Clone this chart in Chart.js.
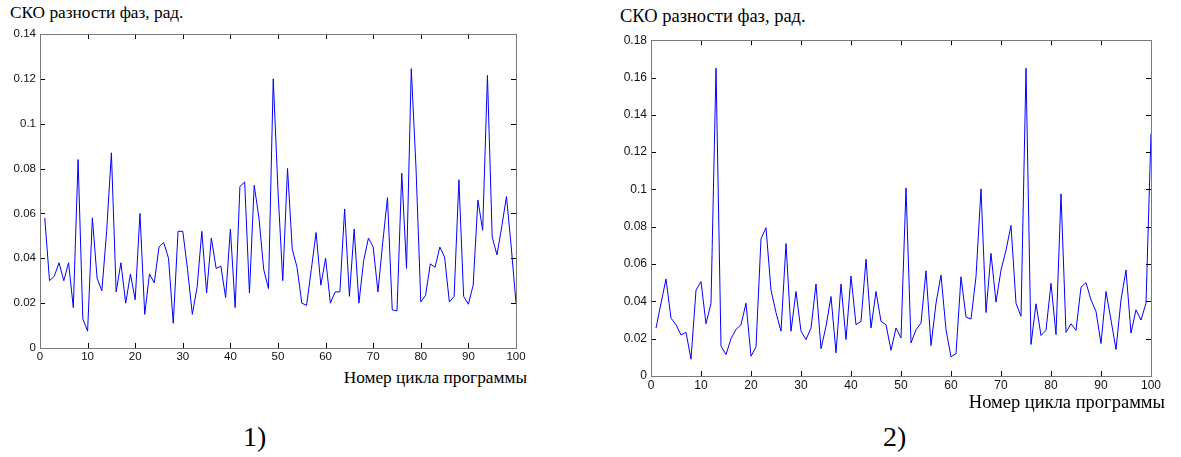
<!DOCTYPE html>
<html>
<head>
<meta charset="utf-8">
<script src="https://cdn.jsdelivr.net/npm/chart.js@4/dist/chart.umd.min.js"></script>
<style>
    body { margin: 0; background: #fff; }
    #page { position: relative; width: 1181px; height: 457px; overflow: hidden; background: #fff; }
    canvas { position: absolute; }
    .txt { position: absolute; font-family: "Liberation Serif", "DejaVu Serif", serif; color: #000; line-height: 1; white-space: nowrap; }
</style>
</head>
<body>
<div id="page">
    <div class="txt" style="left:10px;top:4px;font-size:17.3px;">СКО разности фаз, рад.</div>
    <div class="txt" style="left:620px;top:7px;font-size:18.5px;">СКО разности фаз, рад.</div>

    <canvas id="chart1" width="540" height="345" style="left:0;top:23px;"></canvas>
    <canvas id="chart2" width="565" height="367" style="left:610px;top:29px;"></canvas>

    <div class="txt" style="right:654px;top:369px;font-size:17.3px;">Номер цикла программы</div>
    <div class="txt" style="right:16px;top:393px;font-size:18.5px;">Номер цикла программы</div>

    <div class="txt" style="left:243px;top:423px;font-size:28px;">1)</div>
    <div class="txt" style="left:883px;top:423px;font-size:28px;">2)</div>
</div>

<script>
// номер цикла программы
const cycles = [
    1, 2, 3, 4, 5, 6, 7, 8, 9, 10,
    11, 12, 13, 14, 15, 16, 17, 18, 19, 20,
    21, 22, 23, 24, 25, 26, 27, 28, 29, 30,
    31, 32, 33, 34, 35, 36, 37, 38, 39, 40,
    41, 42, 43, 44, 45, 46, 47, 48, 49, 50,
    51, 52, 53, 54, 55, 56, 57, 58, 59, 60,
    61, 62, 63, 64, 65, 66, 67, 68, 69, 70,
    71, 72, 73, 74, 75, 76, 77, 78, 79, 80,
    81, 82, 83, 84, 85, 86, 87, 88, 89, 90,
    91, 92, 93, 94, 95, 96, 97, 98, 99, 100
];

// 1) СКО разности фаз
const sko1 = [
    0.058, 0.030, 0.032, 0.038, 0.030, 0.038, 0.018, 0.084, 0.013, 0.0075,
    0.058, 0.031, 0.0255, 0.052, 0.087, 0.025, 0.038, 0.020, 0.033, 0.0215,
    0.060, 0.015, 0.033, 0.029, 0.045, 0.047, 0.040, 0.011, 0.052, 0.052,
    0.035, 0.015, 0.027, 0.052, 0.0245, 0.049, 0.0355, 0.0365, 0.0225, 0.053,
    0.018, 0.072, 0.074, 0.0245, 0.0725, 0.058, 0.035, 0.0265, 0.120, 0.070,
    0.030, 0.080, 0.044, 0.036, 0.020, 0.019, 0.035, 0.0515, 0.028, 0.040,
    0.020, 0.025, 0.025, 0.062, 0.023, 0.053, 0.020, 0.039, 0.049, 0.045,
    0.025, 0.047, 0.067, 0.017, 0.0165, 0.078, 0.0355, 0.1245, 0.080, 0.0205,
    0.0235, 0.0375, 0.036, 0.045, 0.0405, 0.0205, 0.023, 0.075, 0.023, 0.0195,
    0.028, 0.066, 0.0525, 0.1215, 0.0495, 0.0415, 0.054, 0.0675, 0.045, 0.020
];

// 2) СКО разности фаз
const sko2 = [
    0.0257, 0.039, 0.052, 0.031, 0.0275, 0.022, 0.0234, 0.009, 0.046, 0.0506,
    0.028, 0.039, 0.165, 0.016, 0.0115, 0.020, 0.025, 0.0275, 0.039, 0.0106,
    0.0156, 0.0736, 0.0795, 0.046, 0.034, 0.024, 0.071, 0.024, 0.0453, 0.024,
    0.0195, 0.0257, 0.0493, 0.0146, 0.0266, 0.0426, 0.0124, 0.0493, 0.0195, 0.0536,
    0.0275, 0.0293, 0.0626, 0.0257, 0.0453, 0.0293, 0.0275, 0.0138, 0.0257, 0.0204,
    0.1008, 0.0177, 0.0248, 0.0284, 0.0564, 0.0163, 0.039, 0.0541, 0.0248, 0.0103,
    0.012, 0.0532, 0.0316, 0.0305, 0.0532, 0.1003, 0.034, 0.0657, 0.0396, 0.0568,
    0.0674, 0.0807, 0.039, 0.032, 0.165, 0.0169, 0.0387, 0.0217, 0.0245, 0.0497,
    0.0222, 0.0976, 0.0234, 0.028, 0.0245, 0.0476, 0.050, 0.0408, 0.0346, 0.0174,
    0.0453, 0.030, 0.0142, 0.0408, 0.0568, 0.023, 0.0355, 0.030, 0.039, 0.130
];

const xTicks  = [0, 10, 20, 30, 40, 50, 60, 70, 80, 90, 100];
const xLabels = ["0", "10", "20", "30", "40", "50", "60", "70", "80", "90", "100"];

const yTicks1  = [0, 0.02, 0.04, 0.06, 0.08, 0.1, 0.12, 0.14];
const yLabels1 = ["0", "0.02", "0.04", "0.06", "0.08", "0.1", "0.12", "0.14"];

const yTicks2  = [0, 0.02, 0.04, 0.06, 0.08, 0.1, 0.12, 0.14, 0.16, 0.18];
const yLabels2 = ["0", "0.02", "0.04", "0.06", "0.08", "0.1", "0.12", "0.14", "0.16", "0.18"];


/* ================= BOX (matlab style) ================= */

const boxPlugin = {
    id: "box",
    afterDraw(chart) {
        const { ctx, chartArea: a, scales: { x, y } } = chart;
        const len = 5;
        ctx.save();

        // inner ticks on all four sides
        ctx.strokeStyle = "#000";
        ctx.lineWidth = 1;
        ctx.beginPath();
        x.ticks.forEach(t => {
            const px = Math.round(x.getPixelForValue(t.value)) + 0.5;
            ctx.moveTo(px, a.bottom);  ctx.lineTo(px, a.bottom - len);
            ctx.moveTo(px, a.top);     ctx.lineTo(px, a.top + len);
        });
        y.ticks.forEach(t => {
            const py = Math.round(y.getPixelForValue(t.value)) + 0.5;
            ctx.moveTo(a.left, py);    ctx.lineTo(a.left + len, py);
            ctx.moveTo(a.right, py);   ctx.lineTo(a.right - len, py);
        });
        ctx.stroke();

        // frame
        ctx.strokeStyle = "#7a7a7a";
        ctx.strokeRect(Math.round(a.left) + 0.5, Math.round(a.top) + 0.5,
                       Math.round(a.right - a.left), Math.round(a.bottom - a.top));
        ctx.restore();
    }
};


/* ================= CHART ================= */

function makeChart(id, values, yMax, yTicks, yLabels, fontSize, yWidth) {

    const font = { family: "Liberation Sans", size: fontSize };

    return new Chart(document.getElementById(id), {
        type: "line",
        data: {
            datasets: [{
                data: cycles.map((c, i) => ({ x: c, y: values[i] })),
                borderColor: "#0000ff",
                borderWidth: 1,
                pointRadius: 0,
                tension: 0,
                fill: false
            }]
        },
        options: {
            responsive: false,
            animation: false,
            events: [],
            layout: { padding: { top: 10, right: 24, left: 0, bottom: 0 } },
            plugins: { legend: { display: false }, tooltip: { enabled: false } },
            scales: {
                x: {
                    type: "linear",
                    min: 0,
                    max: 100,
                    afterBuildTicks: s => { s.ticks = xTicks.map(v => ({ value: v })); },
                    afterFit: s => { s.height = 20; },
                    ticks: {
                        color: "#111",
                        font: font,
                        padding: 2,
                        maxRotation: 0,
                        autoSkip: false,
                        callback: (v, i) => xLabels[i]
                    },
                    grid: { display: false, drawTicks: false },
                    border: { display: false }
                },
                y: {
                    min: 0,
                    max: yMax,
                    afterBuildTicks: s => { s.ticks = yTicks.map(v => ({ value: v })); },
                    afterFit: s => { s.width = yWidth; },
                    ticks: {
                        color: "#111",
                        font: font,
                        padding: 4,
                        autoSkip: false,
                        callback: (v, i) => yLabels[i]
                    },
                    grid: { display: false, drawTicks: false },
                    border: { display: false }
                }
            }
        },
        plugins: [boxPlugin]
    });
}

makeChart("chart1", sko1, 0.14, yTicks1, yLabels1, 11.5, 40);
makeChart("chart2", sko2, 0.18, yTicks2, yLabels2, 12, 41);
</script>
</body>
</html>
